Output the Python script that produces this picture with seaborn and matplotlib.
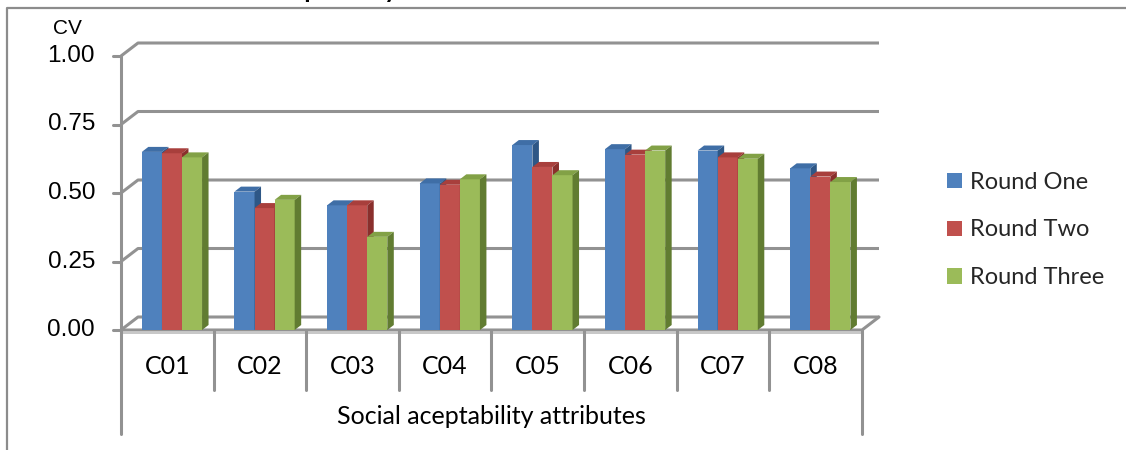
import matplotlib
matplotlib.use("Agg")
import matplotlib.pyplot as plt
from matplotlib.patches import Polygon, Patch
import seaborn as sns
import pandas as pd

# CV values per attribute for the three Delphi rounds
attributes = ["C01", "C02", "C03", "C04", "C05", "C06", "C07", "C08"]
round_one = [0.65, 0.505, 0.455, 0.535, 0.675, 0.66, 0.655, 0.59]
round_two = [0.645, 0.445, 0.455, 0.53, 0.595, 0.64, 0.63, 0.56]
round_three = [0.63, 0.475, 0.34, 0.55, 0.565, 0.655, 0.625, 0.54]
round_names = ["Round One", "Round Two", "Round Three"]
y_ticks = [0.0, 0.25, 0.5, 0.75, 1.0]
y_tick_labels = ["0.00", "0.25", "0.50", "0.75", "1.00"]

front_colors = ["#4F81BD", "#C0504D", "#9BBB59"]
top_colors = ["#3F6EA6", "#A83F3C", "#82A146"]
side_colors = ["#2E5786", "#8A2F2C", "#617C31"]
grid_color = "#929292"

df = pd.DataFrame({
    "attribute": attributes * 3,
    "cv": round_one + round_two + round_three,
    "round": [r for r in round_names for _ in attributes],
})

sns.set_theme(style="white")
plt.rcParams["font.family"] = ["Lato", "DejaVu Sans"]

W, H = 1126, 450
fig = plt.figure(figsize=(W / 100, H / 100), dpi=100)
fig.patch.set_facecolor("white")

# front plane of the plot: x from 121px to 862px, y=0 at 330px, y=1 at 56px
x0_px, x1_px, y0_px, y1_px = 121, 862, 330, 56
ax = fig.add_axes([x0_px / W, 1 - y0_px / H, (x1_px - x0_px) / W, (y0_px - y1_px) / H])

px_x = (x1_px - x0_px) / 8.0      # pixels per category
px_y = (y0_px - y1_px) / 1.0      # pixels per unit of CV
DX, DY = 17 / px_x, 13 / px_y     # wall depth
dx, dy = 6.5 / px_x, 5 / px_y     # bar depth

sns.barplot(data=df, x="attribute", y="cv", hue="round", palette=front_colors,
            hue_order=round_names, order=attributes, width=0.65, gap=0,
            saturation=1, legend=False, ax=ax, edgecolor="none", linewidth=0,
            errorbar=None)
ax.set_xlim(-0.5, 7.5)
ax.set_ylim(0, 1)
ax.axis("off")

# back wall gridlines with the slanted left-wall segments and small ticks
lw = 2.2
for t in y_ticks:
    ax.plot([-0.5, -0.5 + DX, 7.5 + DX], [t, t + DY, t + DY], color=grid_color,
            lw=lw, clip_on=False, zorder=1, solid_capstyle="butt")
    ax.plot([-0.5 - 8 / px_x, -0.5], [t, t], color=grid_color, lw=lw,
            clip_on=False, zorder=1)
for t, lab in zip(y_ticks, y_tick_labels):
    ax.text(-0.5 - 26 / px_x, t, lab, ha="right", va="center", fontsize=17.5,
            family="Liberation Sans", color="black")

# floor edges
ax.plot([-0.5, 7.5, 7.5 + DX], [0, 0, DY], color=grid_color, lw=lw,
        clip_on=False, zorder=2)
ax.plot([-0.5, 7.5], [-2.5 / px_y, -2.5 / px_y], color="#BDBDBD", lw=1.2,
        clip_on=False, zorder=2)

# front value axis and category divisions
low = -(434 - y0_px) / px_y
mid = -(390 - y0_px) / px_y
ax.plot([-0.5, -0.5], [1.0, low], color=grid_color, lw=lw, clip_on=False, zorder=2)
ax.plot([7.5, 7.5], [0, low], color=grid_color, lw=lw, clip_on=False, zorder=2)
for b in range(1, 8):
    ax.plot([b - 0.5, b - 0.5], [0, mid], color=grid_color, lw=lw,
            clip_on=False, zorder=2)
for i, name in enumerate(attributes):
    ax.text(i, -(366 - y0_px) / px_y, name, ha="center", va="center",
            fontsize=18, color="black")
ax.text(3.5, -(417 - y0_px) / px_y, "Social aceptability attributes",
        ha="center", va="center", fontsize=18, color="black")

# give each bar a top and a right side face
bars = sorted(ax.patches, key=lambda p: p.get_x())
for k, bar in enumerate(bars):
    ci = front_colors.index(matplotlib.colors.to_hex(bar.get_facecolor()).upper())
    bar.set_x(bar.get_x() + 0.05)
    bx0 = bar.get_x()
    bx1 = bx0 + bar.get_width()
    h = bar.get_height()
    z = 3 + k * 0.01
    bar.set_zorder(z)
    bar.set_clip_on(False)
    top = Polygon([(bx0, h), (bx0 + dx, h + dy), (bx1 + dx, h + dy), (bx1, h)],
                  closed=True, facecolor=top_colors[ci], edgecolor="none",
                  zorder=z + 0.005, clip_on=False)
    side = Polygon([(bx1, 0), (bx1 + dx, dy), (bx1 + dx, h + dy), (bx1, h)],
                   closed=True, facecolor=side_colors[ci], edgecolor="none",
                   zorder=z + 0.005, clip_on=False)
    ax.add_patch(top)
    ax.add_patch(side)

# legend
handles = [Patch(facecolor=c, edgecolor="none") for c in front_colors]
ax.legend(handles, round_names, loc="center left",
          bbox_to_anchor=(947 / W, 1 - 230 / H), bbox_transform=fig.transFigure,
          frameon=False, fontsize=17, handlelength=0.62, handleheight=0.62,
          handletextpad=0.35, labelspacing=1.13, borderpad=0, borderaxespad=0)

# axis caption and chart heading
fig.text(53 / W, 1 - 28 / H, "CV", ha="left", va="center", fontsize=15,
         family="Liberation Sans", color="black")
fig.text(176 / W, 1 + 2 / H, "Social Acceptability", ha="left", va="baseline",
         fontsize=18.3, fontweight="bold", color="black")

# chart area border
fig.add_artist(plt.Line2D([7 / W, 7 / W, 1.0], [0.0, 1 - 8 / H, 1 - 8 / H],
                          transform=fig.transFigure, color="#8C8C8C", lw=1.6))

fig.savefig("out.png", dpi=100)
